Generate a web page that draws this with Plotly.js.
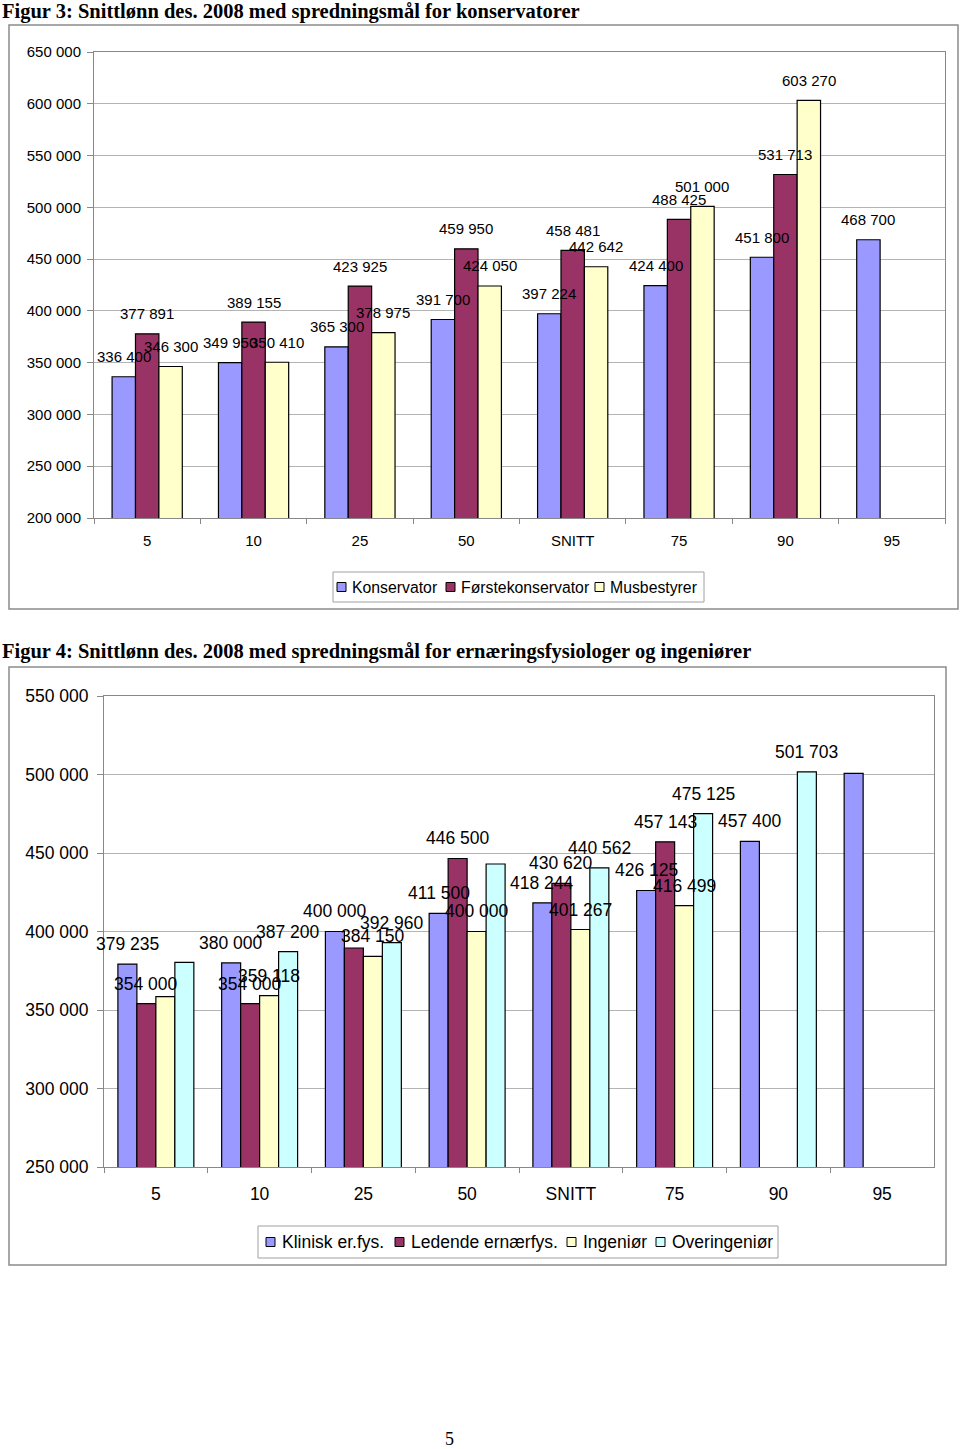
<!DOCTYPE html>
<html>
<head>
<meta charset="utf-8">
<script src="https://cdn.plot.ly/plotly-3.0.1.min.js"></script>
<style>
  html, body { margin: 0; padding: 0; background: #ffffff; }
  #chart { width: 960px; height: 1449px; }
</style>
</head>
<body>
<div id="chart"></div>
<script>
// ---------- DATA ----------
const categories = ['5', '10', '25', '50', 'SNITT', '75', '90', '95'];

// Figur 3
const konservator       = [336400, 349950, 365300, 391700, 397224, 424400, 451800, 468700];
const forstekonservator = [377891, 389155, 423925, 459950, 458481, 488425, 531713, null];
const musbestyrer       = [346300, 350410, 378975, 424050, 442642, 501000, 603270, null];
const fig3Names = ['Konservator', 'Førstekonservator', 'Musbestyrer'];
const fig3Ticks = [200000, 250000, 300000, 350000, 400000, 450000, 500000, 550000, 600000, 650000];

// Figur 4
const kliniskErfys     = [379235, 380000, 400000, 411500, 418244, 426125, 457400, 500700];
const ledendeErnaerfys = [354000, 354000, 389500, 446500, 430620, 457143, null, null];
const ingenior         = [358500, 359118, 384150, 400000, 401267, 416499, null, null];
const overingenior     = [380300, 387200, 392960, 443000, 440562, 475125, 501703, null];
const fig4Names = ['Klinisk er.fys.', 'Ledende ernærfys.', 'Ingeniør', 'Overingeniør'];
const fig4Ticks = [250000, 300000, 350000, 400000, 450000, 500000, 550000];
// data labels that are shown in the original (1 = shown)
const kliniskLabelShown  = [1, 1, 1, 1, 1, 1, 1, 0];
const ledendeLabelShown  = [1, 1, 0, 1, 1, 1, 0, 0];
const ingeniorLabelShown = [0, 1, 1, 1, 1, 1, 0, 0];
const overingLabelShown  = [0, 1, 1, 0, 1, 1, 1, 0];

const fig3Title = 'Figur 3: Snittlønn des. 2008 med spredningsmål for konservatorer';
const fig4Title = 'Figur 4: Snittlønn des. 2008 med spredningsmål for ernæringsfysiologer og ingeniører';
const pageNumber = '5';

// ---------- STYLE ----------
const W = 960, H = 1449;
const px = v => v / W;
const py = v => 1 - v / H;
const SANS = 'Liberation Sans, Arial, sans-serif';
const SERIF = 'Liberation Serif, Times New Roman, serif';
const C_BLUE = '#9999FF', C_PLUM = '#993366', C_CREAM = '#FFFFCC', C_CYAN = '#CCFFFF';
const GAP3 = 0.34, GAP4 = 0.268;

function fmt(v) { return String(v).replace(/\B(?=(\d{3})+(?!\d))/g, ' '); }

const traces = [];
const annotations = [];
const shapes = [];

function addSeries(values, name, color, xa, ya, idx, n, gap, fontSize, shown) {
  const bw = (1 - gap) / n;
  traces.push({
    type: 'bar', x: categories, y: values, name: name,
    xaxis: xa, yaxis: ya, showlegend: false,
    width: bw, offset: -(1 - gap) / 2 + idx * bw,
    marker: { color: color, line: { color: '#000000', width: 1.2 } },
    hoverinfo: 'x+y+name'
  });
  const off = -(1 - gap) / 2 + (idx + 0.5) * bw;
  values.forEach((v, i) => {
    if (v === null) return;
    if (shown && !shown[i]) return;
    annotations.push({
      xref: xa, yref: ya, x: i + off + 1e-6, y: v,
      text: fmt(v), showarrow: false, yanchor: 'middle', yshift: 20,
      font: { family: SANS, size: fontSize, color: '#000' }
    });
  });
}

addSeries(konservator, fig3Names[0], C_BLUE, 'x', 'y', 0, 3, GAP3, 15, null);
addSeries(forstekonservator, fig3Names[1], C_PLUM, 'x', 'y', 1, 3, GAP3, 15, null);
addSeries(musbestyrer, fig3Names[2], C_CREAM, 'x', 'y', 2, 3, GAP3, 15, null);

addSeries(kliniskErfys, fig4Names[0], C_BLUE, 'x2', 'y2', 0, 4, GAP4, 17.5, kliniskLabelShown);
addSeries(ledendeErnaerfys, fig4Names[1], C_PLUM, 'x2', 'y2', 1, 4, GAP4, 17.5, ledendeLabelShown);
addSeries(ingenior, fig4Names[2], C_CREAM, 'x2', 'y2', 2, 4, GAP4, 17.5, ingeniorLabelShown);
addSeries(overingenior, fig4Names[3], C_CYAN, 'x2', 'y2', 3, 4, GAP4, 17.5, overingLabelShown);

// ---------- custom legends (compact, Excel style) ----------
function addLegend(box, names, colors, squaresX, textX, cy, sq, fontSize) {
  shapes.push({ type: 'rect', xref: 'paper', yref: 'paper',
    x0: px(box[0]), x1: px(box[1]), y0: py(box[2]), y1: py(box[3]),
    line: { color: '#a0a0a0', width: 1 }, fillcolor: '#ffffff', layer: 'above' });
  names.forEach((nm, i) => {
    shapes.push({ type: 'rect', xref: 'paper', yref: 'paper',
      x0: px(squaresX[i]), x1: px(squaresX[i] + sq), y0: py(cy - sq / 2), y1: py(cy + sq / 2),
      line: { color: '#000000', width: 1 }, fillcolor: colors[i], layer: 'above' });
    annotations.push({ xref: 'paper', yref: 'paper', x: px(textX[i]), y: py(cy),
      xanchor: 'left', yanchor: 'middle', text: nm, showarrow: false, borderpad: 0,
      font: { family: SANS, size: fontSize, color: '#000' } });
  });
}
addLegend([333, 704, 572, 602], fig3Names, [C_BLUE, C_PLUM, C_CREAM],
  [337, 446, 595], [351, 460, 609], 587, 9, 15.8);
addLegend([258, 778, 1226, 1258], fig4Names, [C_BLUE, C_PLUM, C_CREAM, C_CYAN],
  [266, 395, 567, 656], [281, 410, 582, 671], 1242, 9, 17.5);

// titles & page number
annotations.push({ xref: 'paper', yref: 'paper', x: px(1), y: py(11), xanchor: 'left', yanchor: 'middle',
  text: '<b>' + fig3Title + '</b>', showarrow: false, borderpad: 0, font: { family: SERIF, size: 20.5, color: '#000' } });
annotations.push({ xref: 'paper', yref: 'paper', x: px(1), y: py(652), xanchor: 'left', yanchor: 'middle',
  text: '<b>' + fig4Title + '</b>', showarrow: false, borderpad: 0, font: { family: SERIF, size: 20.5, color: '#000' } });
annotations.push({ xref: 'paper', yref: 'paper', x: px(449), y: py(1439), xanchor: 'center', yanchor: 'middle',
  text: pageNumber, showarrow: false, borderpad: 0, font: { family: SERIF, size: 18, color: '#000' } });

// chart frames
shapes.push({ type: 'rect', xref: 'paper', yref: 'paper', x0: px(9), x1: px(958), y0: py(25), y1: py(609),
  line: { color: '#8c8c8c', width: 1.5 }, layer: 'below' });
shapes.push({ type: 'rect', xref: 'paper', yref: 'paper', x0: px(9), x1: px(946), y0: py(667), y1: py(1265),
  line: { color: '#8c8c8c', width: 1.5 }, layer: 'below' });

function xAxis(domain, anchor, fontSize, standoff) {
  return {
    domain: domain, anchor: anchor, type: 'category', categoryorder: 'array', categoryarray: categories,
    range: [-0.5, categories.length - 0.5],
    showline: true, mirror: true, linecolor: '#888888', linewidth: 1,
    ticks: 'outside', tickson: 'boundaries', ticklen: 5, tickcolor: '#888888',
    showgrid: false, zeroline: false, fixedrange: true,
    tickfont: { family: SANS, size: fontSize, color: '#000' }, ticklabelstandoff: standoff
  };
}
function yAxis(domain, anchor, range, ticks, fontSize, standoff) {
  return {
    domain: domain, anchor: anchor, range: range, tickmode: 'array', tickvals: ticks,
    tickformat: ',d', showline: true, mirror: true, linecolor: '#888888', linewidth: 1,
    ticks: 'outside', ticklen: 6, tickcolor: '#888888',
    showgrid: true, gridcolor: '#b4b4b4', gridwidth: 1, zeroline: false, fixedrange: true,
    tickfont: { family: SANS, size: fontSize, color: '#000' }, ticklabelstandoff: standoff
  };
}

const layout = {
  width: W, height: H, margin: { l: 0, r: 0, t: 0, b: 0 },
  paper_bgcolor: '#ffffff', plot_bgcolor: '#ffffff',
  separators: ', ', barmode: 'overlay', showlegend: false,
  xaxis: xAxis([px(94), px(945)], 'y', 15, 9),
  yaxis: yAxis([py(518), py(52)], 'x', [200000, 650000], fig3Ticks, 15, 3),
  xaxis2: xAxis([px(104), px(934)], 'y2', 17.5, 11),
  yaxis2: yAxis([py(1167), py(696)], 'x2', [250000, 550000], fig4Ticks, 17.5, 5),
  annotations: annotations, shapes: shapes
};

Plotly.newPlot('chart', traces, layout, { displayModeBar: false, staticPlot: true });
</script>
</body>
</html>
